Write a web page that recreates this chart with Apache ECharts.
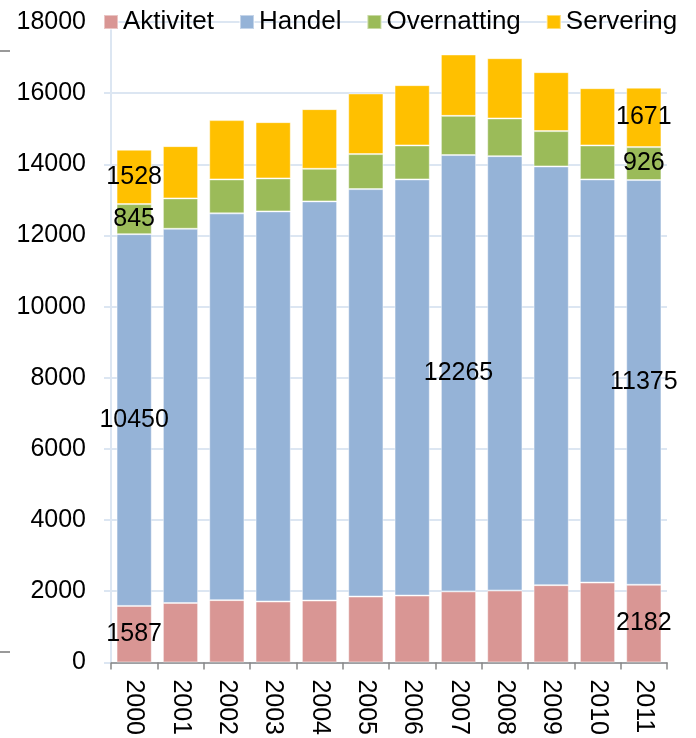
<!DOCTYPE html>
<html>
<head>
<meta charset="utf-8">
<style>
  html, body { margin: 0; padding: 0; background: #fff; }
  #chart { width: 696px; height: 738px; }
</style>
<script src="https://cdn.jsdelivr.net/npm/echarts@6/dist/echarts.min.js"></script>
</head>
<body>
<div id="chart"></div>
<script>
// Employment by sector, 2000–2011 (stacked)
const years = ['2000','2001','2002','2003','2004','2005','2006','2007','2008','2009','2010','2011'];
const aktivitet   = [1587, 1670, 1750, 1711, 1739, 1851, 1879, 1995, 2020, 2171, 2244, 2182];
const handel      = [10450, 10518, 10871, 10966, 11219, 11452, 11697, 12265, 12210, 11770, 11332, 11375];
const overnatting = [845, 854, 955, 927, 916, 984, 955, 1102, 1059, 992, 955, 926];
const servering   = [1528, 1469, 1666, 1581, 1677, 1705, 1694, 1725, 1694, 1657, 1609, 1671];

// Which columns carry value labels, per series
const labelled = {
  Aktivitet: [0, 11],
  Handel: [0, 7, 11],
  Overnatting: [0, 11],
  Servering: [0, 11]
};

const FONT = '"Liberation Sans", Arial, Helvetica, sans-serif';
const colors = {
  Aktivitet: '#d99694',
  Handel: '#95b3d7',
  Overnatting: '#9bbb59',
  Servering: '#ffc000'
};

function makeSeries(name, values) {
  return {
    name: name,
    type: 'bar',
    stack: 'total',
    barCategoryGap: '24%',
    itemStyle: { color: colors[name], borderColor: 'rgba(255,255,255,0.45)', borderWidth: 1 },
    label: {
      show: true,
      position: 'inside',
      color: '#000',
      fontFamily: FONT,
      fontSize: 25,
      formatter: p => labelled[name].includes(p.dataIndex) ? String(p.value) : ''
    },
    emphasis: { disabled: true },
    data: values
  };
}

const chart = echarts.init(document.getElementById('chart'), null, { renderer: 'canvas' });
chart.setOption({
  animation: false,
  backgroundColor: '#fff',
  textStyle: { fontFamily: FONT },
  grid: { left: 111, right: 29, top: 22, bottom: 75.5, containLabel: false },
  legend: {
    left: 98,
    top: 4,
    icon: 'rect',
    itemWidth: 14,
    itemHeight: 14,
    itemGap: 25,
    textStyle: { fontFamily: FONT, fontSize: 26, color: '#000' },
    data: ['Aktivitet', 'Handel', 'Overnatting', 'Servering']
  },
  xAxis: {
    type: 'category',
    data: years,
    axisLine: { lineStyle: { color: '#888', width: 1.5 } },
    axisTick: { show: true, length: 7, alignWithLabel: false, lineStyle: { color: '#888', width: 1.5 } },
    axisLabel: { rotate: -90, margin: 17, color: '#000', fontSize: 25, fontFamily: FONT }
  },
  yAxis: {
    type: 'value',
    min: 0,
    max: 18000,
    interval: 2000,
    axisLine: { show: true, lineStyle: { color: '#dce6f2', width: 2 } },
    axisTick: { show: true, length: 7, lineStyle: { color: '#dce6f2', width: 2 } },
    splitLine: { lineStyle: { color: '#dce6f2', width: 2 } },
    axisLabel: { margin: 25, color: '#000', fontSize: 25, fontFamily: FONT, formatter: v => String(v) }
  },
  graphic: [
    { type: 'line', shape: { x1: 0, y1: 51, x2: 10, y2: 51 }, style: { stroke: '#999', lineWidth: 2 } },
    { type: 'line', shape: { x1: 0, y1: 652, x2: 10, y2: 652 }, style: { stroke: '#999', lineWidth: 2 } }
  ],
  series: [
    makeSeries('Aktivitet', aktivitet),
    makeSeries('Handel', handel),
    makeSeries('Overnatting', overnatting),
    makeSeries('Servering', servering)
  ]
});
</script>
</body>
</html>
